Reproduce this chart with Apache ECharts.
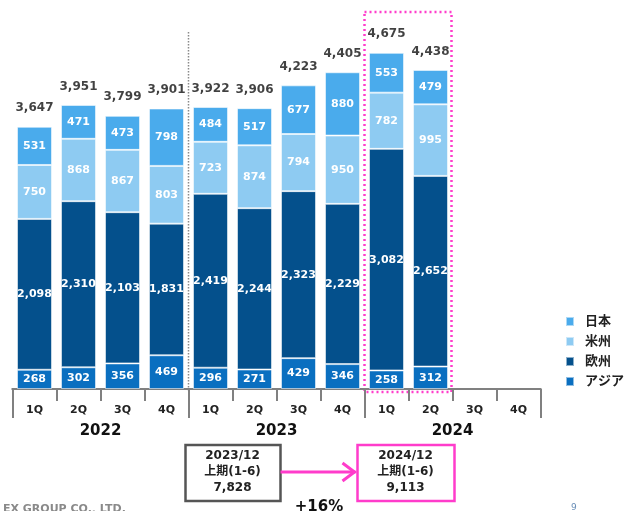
<!DOCTYPE html>
<html>
<head>
<meta charset="utf-8">
<script src="https://cdn.jsdelivr.net/npm/echarts@6/dist/echarts.min.js"></script>
<style>
  html, body { margin: 0; padding: 0; background: #fff; }
  #chart { width: 625px; height: 511px; }
</style>
</head>
<body>
<div id="chart"></div>
<script>
// quarterly sales by region (2022 1Q .. 2024 4Q)
const quarters = ['1Q', '2Q', '3Q', '4Q', '1Q', '2Q', '3Q', '4Q', '1Q', '2Q', '3Q', '4Q'];
const years = ['2022', '2023', '2024'];
const asia = [268, 302, 356, 469, 296, 271, 429, 346, 258, 312, '-', '-'];
const europe = [2098, 2310, 2103, 1831, 2419, 2244, 2323, 2229, 3082, 2652, '-', '-'];
const americas = [750, 868, 867, 803, 723, 874, 794, 950, 782, 995, '-', '-'];
const japan = [531, 471, 473, 798, 484, 517, 677, 880, 553, 479, '-', '-'];
const totals = [3647, 3951, 3799, 3901, 3922, 3906, 4223, 4405, 4675, 4438, '-', '-'];
const halfPrev = ['2023/12', '上期(1-6)', '7,828'];
const halfCurr = ['2024/12', '上期(1-6)', '9,113'];
const growth = '+16%';

const FONT = '"DejaVu Sans", "Noto Sans CJK JP", sans-serif';
const PINK = '#ff3ccb';

const chart = echarts.init(document.getElementById('chart'));

function fmt (v) {
    return Number(v).toLocaleString('en-US');
}

function barSeries (name, data, color) {
    return {
        name: name,
        type: 'bar',
        stack: 'sales',
        data: data,
        barWidth: 35,
        itemStyle: { color: color, borderColor: 'rgba(255,255,255,0.55)', borderWidth: 1 },
        label: {
            show: true,
            position: 'inside',
            color: '#fff',
            fontSize: 11,
            fontWeight: 'bold',
            fontFamily: FONT,
            formatter: p => fmt(p.value)
        },
        silent: true
    };
}

const axisGrey = { color: '#808080', width: 2 };

chart.setOption({
    animation: false,
    grid: { left: 12.5, right: 84.5, top: 29.5, bottom: 122 },
    legend: {
        data: ['日本', '米州', '欧州', 'アジア'],
        orient: 'vertical',
        left: 565,
        top: 315,
        padding: 0,
        icon: 'rect',
        itemWidth: 8,
        itemHeight: 9,
        itemGap: 7,
        textStyle: { fontSize: 13, fontWeight: 'bold', color: '#222', fontFamily: FONT, lineHeight: 13, padding: [0, 0, 0, 6] }
    },
    xAxis: [
        {
            type: 'category',
            data: quarters,
            position: 'bottom',
            axisLine: { lineStyle: axisGrey },
            axisTick: { show: true, interval: 0, alignWithLabel: false, length: 12, lineStyle: axisGrey },
            axisLabel: { interval: 0, margin: 16, fontSize: 11, fontWeight: 'bold', color: '#222', fontFamily: FONT }
        },
        {
            type: 'category',
            data: years,
            position: 'bottom',
            offset: 0,
            axisLine: { lineStyle: axisGrey },
            axisTick: { show: true, interval: 0, alignWithLabel: false, length: 29, lineStyle: axisGrey },
            axisLabel: { interval: 0, margin: 35, fontSize: 15, fontWeight: 'bold', color: '#111', fontFamily: FONT }
        }
    ],
    yAxis: { type: 'value', min: 0, max: 5000, show: false },
    series: [
        barSeries('アジア', asia, '#0a6fc0'),
        barSeries('欧州', europe, '#04508c'),
        barSeries('米州', americas, '#8ecbf2'),
        barSeries('日本', japan, '#4aabec'),
        {
            name: 'total',
            type: 'scatter',
            data: totals,
            symbolSize: 1,
            itemStyle: { color: 'transparent' },
            label: {
                show: true,
                position: 'top',
                distance: 12,
                color: '#111',
                fontSize: 12,
                fontWeight: 'bold',
                fontFamily: FONT,
                formatter: p => fmt(p.value)
            },
            silent: true
        }
    ]
});

// annotations placed from the category positions
const cx = i => chart.convertToPixel({ xAxisIndex: 0 }, i);
const band = cx(1) - cx(0);
const sepX = (cx(3) + cx(4)) / 2;
const boxL = cx(8) - band / 2;
const boxR = cx(9) + band / 2;
const c1 = (cx(4) + cx(5)) / 2;
const c2 = (cx(8) + cx(9)) / 2 - 3;

function boxText (x, lines) {
    return lines.map((t, k) => ({
        type: 'text',
        x: x,
        y: 456 + k * 16,
        style: { text: t, fill: '#222', font: 'bold 12px ' + FONT, align: 'center', verticalAlign: 'middle' }
    }));
}

chart.setOption({
    graphic: [
        { type: 'line', shape: { x1: sepX, y1: 32, x2: sepX, y2: 392 }, style: { stroke: '#8a8a8a', lineWidth: 1.5, lineDash: [1.5, 1.5] } },
        { type: 'rect', shape: { x: boxL, y: 12, width: boxR - boxL - 1, height: 380 }, style: { fill: 'none', stroke: PINK, lineWidth: 2.5, lineDash: [2, 3] } },
        { type: 'rect', shape: { x: c1 - 47, y: 445, width: 95, height: 56 }, style: { fill: '#fff', stroke: '#555', lineWidth: 2.5 } },
        { type: 'rect', shape: { x: c2 - 48, y: 445, width: 97, height: 56 }, style: { fill: '#fff', stroke: PINK, lineWidth: 2.5 } },
        { type: 'line', shape: { x1: c1 + 48, y1: 472, x2: c2 - 50, y2: 472 }, style: { stroke: PINK, lineWidth: 3 } },
        { type: 'polyline', shape: { points: [[c2 - 63, 463], [c2 - 51, 472], [c2 - 63, 481]] }, style: { fill: 'none', stroke: PINK, lineWidth: 3 } },
        ...boxText(c1, halfPrev),
        ...boxText(c2, halfCurr),
        { type: 'text', x: (c1 + c2) / 2, y: 500, style: { text: growth, fill: '#111', font: 'bold 15px ' + FONT, align: 'center', verticalAlign: 'top' } },
        { type: 'text', x: 3, y: 504, style: { text: 'EX GROUP CO., LTD.', fill: '#8a8a8a', font: 'bold 11px ' + FONT, verticalAlign: 'top' } },
        { type: 'text', x: 571, y: 503, style: { text: '9', fill: '#6a8fb8', font: '9px ' + FONT, verticalAlign: 'top' } }
    ]
});
</script>
</body>
</html>
